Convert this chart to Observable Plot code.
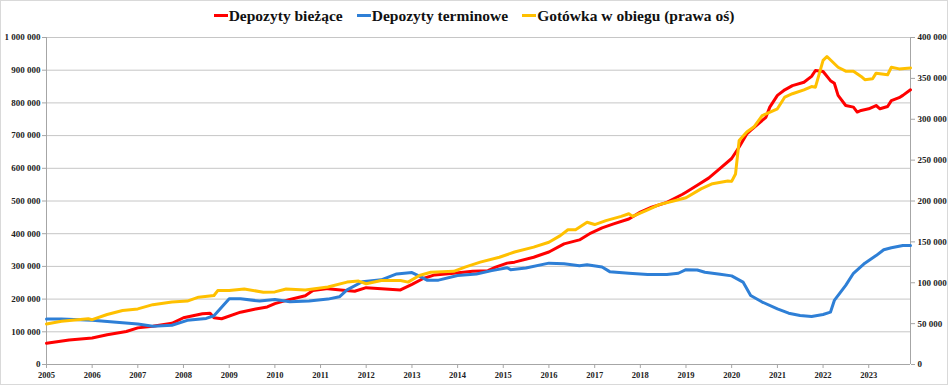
<!DOCTYPE html>
<html>
<head>
<meta charset="utf-8">
<script src="https://cdn.jsdelivr.net/npm/d3@7"></script>
<script src="https://cdn.jsdelivr.net/npm/@observablehq/plot@0.6"></script>
<style>
  html, body { margin: 0; padding: 0; background: #fff; }
  #frame { width: 948px; height: 385px; box-sizing: border-box; border: 1px solid #d9d9d9; background: #fff; overflow: hidden; }
  #legend { height: 29px; display: flex; justify-content: center; align-items: center; font-family: "Liberation Serif", "DejaVu Serif", serif; font-weight: bold; font-size: 15.5px; color: #111; gap: 14px; }
  #legend .item { display: flex; align-items: center; }
  #legend .sw { display: inline-block; width: 14px; height: 3px; margin-right: 1px; }
  #chart svg { display: block; }
</style>
</head>
<body>
<div id="frame">
  <div id="legend"></div>
  <div id="chart"></div>
</div>
<script>
// ---- Data (thousands, shown on axes in units) ----
const seriesNames = ["Depozyty bieżące", "Depozyty terminowe", "Gotówka w obiegu (prawa oś)"];
const seriesColors = ["#ff0000", "#2e7fd6", "#ffc000"];

// Depozyty bieżące (left axis, thousands)
const biezaceDates = ["2005-01","2005-07","2006-01","2006-05","2006-10","2007-01","2007-05","2007-10","2008-01","2008-06","2008-08","2008-09","2008-11","2009-04","2009-08","2009-11","2010-01","2010-05","2010-09","2010-11","2011-03","2011-07","2011-10","2012-01","2012-05","2012-10","2013-01","2013-04","2013-07","2013-12","2014-05","2014-09","2014-11","2015-02","2015-04","2015-09","2016-01","2016-05","2016-09","2016-12","2017-03","2017-06","2017-10","2018-01","2018-04","2018-08","2018-12","2019-01","2019-04","2019-07","2019-10","2020-01","2020-03","2020-05","2020-06","2020-08","2020-10","2020-11","2021-01","2021-03","2021-05","2021-08","2021-10","2021-11","2022-01","2022-03","2022-04","2022-05","2022-07","2022-09","2022-10","2022-11","2023-01","2023-03","2023-04","2023-06","2023-07","2023-09","2023-10","2023-12"];
const biezaceValues = [65,75,81,91,101,112,117,126,143,155,157,143,140,160,170,176,186,199,210,226,232,227,224,235,232,228,245,263,274,279,285,287,298,310,313,328,344,369,381,402,418,430,445,466,481,496,520,527,548,570,600,630,665,705,716,736,756,787,823,840,853,863,881,899,896,868,860,823,792,787,772,777,782,792,782,789,807,816,823,840];

// Depozyty terminowe (left axis, thousands)
const terminoweDates = ["2005-01","2005-05","2006-01","2006-09","2007-01","2007-05","2007-10","2008-02","2008-07","2008-09","2008-11","2009-01","2009-04","2009-09","2010-01","2010-05","2010-10","2011-03","2011-06","2011-08","2011-12","2012-05","2012-09","2013-01","2013-03","2013-05","2013-08","2014-01","2014-06","2014-10","2015-02","2015-03","2015-07","2016-01","2016-05","2016-09","2016-11","2017-03","2017-05","2017-10","2018-03","2018-08","2018-11","2019-01","2019-04","2019-06","2019-10","2020-01","2020-04","2020-06","2020-09","2021-01","2021-04","2021-07","2021-10","2022-01","2022-03","2022-04","2022-07","2022-09","2022-12","2023-03","2023-05","2023-07","2023-10","2023-12"];
const terminoweValues = [139,139,135,128,124,117,120,135,141,149,175,201,201,194,199,192,194,200,207,228,253,259,277,281,270,258,258,272,277,287,296,290,295,310,308,302,305,298,284,279,275,275,279,290,289,282,276,271,252,211,191,170,157,150,147,153,160,196,242,279,310,333,351,357,364,364];

// Gotówka w obiegu (right axis, thousands)
const gotowkaDates = ["2005-01","2005-05","2005-12","2006-01","2006-05","2006-09","2007-01","2007-05","2007-10","2008-02","2008-05","2008-09","2008-10","2009-01","2009-05","2009-10","2010-01","2010-04","2010-09","2011-03","2011-08","2011-11","2012-01","2012-05","2012-10","2012-12","2013-03","2013-06","2013-12","2014-03","2014-07","2014-12","2015-04","2015-09","2016-01","2016-04","2016-06","2016-08","2016-11","2017-01","2017-04","2017-08","2017-10","2017-11","2018-03","2018-06","2018-10","2019-01","2019-05","2019-08","2019-12","2020-01","2020-02","2020-03","2020-05","2020-07","2020-09","2021-01","2021-03","2021-05","2021-08","2021-10","2021-11","2022-01","2022-02","2022-05","2022-07","2022-09","2022-11","2022-12","2023-02","2023-03","2023-06","2023-07","2023-09","2023-12"];
const gotowkaValues = [49.6,52.8,56,54.8,61.2,66,68,73.2,76.4,77.6,82.4,84.4,90.4,90.4,92.4,88.4,88.8,92.4,91.2,94.8,100.8,102,98.8,102.8,102.8,100.8,108.8,112.8,114,119.2,125.2,131.2,137.6,143.6,149.6,157.6,164.8,164.8,174,171.2,176,181.2,184.4,181.2,189.2,195.6,200.4,204,214.8,221.2,224.4,224,233,274,284.4,291.2,304.4,312.8,327.2,331.2,336,340,339.2,372,376.8,363.6,358.8,358.8,352.4,348.4,349.6,356.4,354.4,363.6,361.6,362.8];

// Axis ticks
const leftTicks = [0,100000,200000,300000,400000,500000,600000,700000,800000,900000,1000000];
const rightTicks = [0,50000,100000,150000,200000,250000,300000,350000,400000];
const yearLabels = ["2005","2006","2007","2008","2009","2010","2011","2012","2013","2014","2015","2016","2017","2018","2019","2020","2021","2022","2023"];

// ---- Build ----
const parse = d3.utcParse("%Y-%m");
const ratio = 1000000 / 400000;
const locale = d3.formatLocale({decimal: ",", thousands: " ", grouping: [3], currency: ["", ""]});
const fmt = locale.format(",");

const red = biezaceDates.map((d, i) => ({date: parse(d), v: biezaceValues[i] * 1000}));
const blue = terminoweDates.map((d, i) => ({date: parse(d), v: terminoweValues[i] * 1000}));
const yellow = gotowkaDates.map((d, i) => ({date: parse(d), v: gotowkaValues[i] * 1000}));
const years = yearLabels.map(y => d3.utcParse("%Y")(y));
const x0 = parse("2005-01"), x1 = parse("2023-12");

// Legend
const legend = document.getElementById("legend");
seriesNames.forEach((n, i) => {
  const it = document.createElement("span");
  it.className = "item";
  const sw = document.createElement("span");
  sw.className = "sw";
  sw.style.background = seriesColors[i];
  it.appendChild(sw);
  it.appendChild(document.createTextNode(n));
  legend.appendChild(it);
});

const axisColor = "#a6a6a6";
const chart = Plot.plot({
  width: 946,
  height: 354,
  marginLeft: 45,
  marginRight: 37,
  marginTop: 7,
  marginBottom: 20,
  style: {fontFamily: "'Liberation Serif', 'DejaVu Serif', serif", fontWeight: "bold", fontSize: "9px", color: "#222", background: "#fff"},
  x: {type: "utc", domain: [x0, x1], label: null},
  y: {domain: [0, 1000000], label: null},
  marks: [
    Plot.gridY(leftTicks.slice(1), {stroke: "#c6c6c6", strokeOpacity: 1, strokeWidth: 1}),
    Plot.ruleX([x0, x1], {stroke: axisColor, strokeWidth: 1}),
    Plot.ruleY([0], {stroke: axisColor, strokeWidth: 1}),
    Plot.axisY(leftTicks, {anchor: "left", label: null, tickFormat: fmt, tickSize: 4, tickPadding: 2, stroke: axisColor, fill: "#222"}),
    Plot.axisY(rightTicks.map(t => t * ratio), {anchor: "right", label: null, tickFormat: d => fmt(Math.round(d / ratio)), tickSize: 4, tickPadding: 3, stroke: axisColor, fill: "#222"}),
    Plot.axisX(years, {anchor: "bottom", label: null, tickFormat: d3.utcFormat("%Y"), tickSize: 4, tickPadding: 3, stroke: axisColor, fill: "#222", fontSize: 8.5}),
    Plot.lineY(red, {x: "date", y: "v", stroke: seriesColors[0], strokeWidth: 3, curve: "linear"}),
    Plot.lineY(blue, {x: "date", y: "v", stroke: seriesColors[1], strokeWidth: 3, curve: "linear"}),
    Plot.lineY(yellow, {x: "date", y: d => d.v * ratio, stroke: seriesColors[2], strokeWidth: 3, curve: "linear"})
  ]
});
document.getElementById("chart").appendChild(chart);
</script>
</body>
</html>
